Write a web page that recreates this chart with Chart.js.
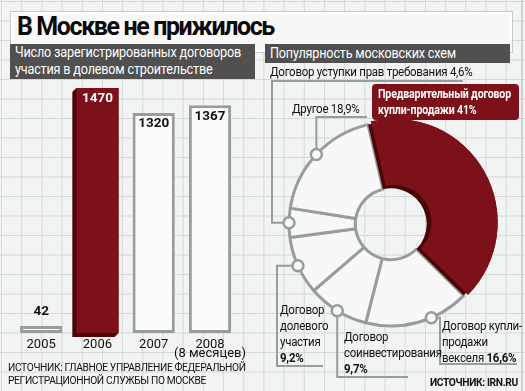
<!DOCTYPE html>
<html>
<head>
<meta charset="utf-8">
<title>В Москве не прижилось</title>
<script src="https://cdn.jsdelivr.net/npm/chart.js"></script>
<style>
  body {
    margin: 0;
    width: 525px;
    height: 391px;
    overflow: hidden;
    position: relative;
    background-color: #f2f3f3;
    background-image: linear-gradient(#d4d8d8 1px, transparent 1px),
                      linear-gradient(90deg, #d4d8d8 1px, transparent 1px);
    background-size: 20.2px 19.5px;
    background-position: 1px 1px;
    font-family: Roboto, sans-serif;
    color: #111;
  }
  .abs { position: absolute; white-space: nowrap; transform-origin: 0 0; }
  #edge { left: 521px; top: 0; width: 2px; height: 391px; background: #cdd1d1; }
  #titleBox {
    left: 10px; top: 11px; width: 501px; height: 40px;
    background: #f8f8f8; border: 1px solid #c6caca;
    box-shadow: inset 0 0 0 2px #fff;
  }
  #title {
    left: 17px; top: 12px; font-size: 25px; font-weight: bold;
    letter-spacing: -1.4px; color: #0a0a0a;
  }
  .head { background: #505050; }
  .headTxt {
    color: #fff; font-size: 14.5px; line-height: 17px; letter-spacing: -0.2px;
    transform: scaleX(0.87);
  }
  .lbl { font-size: 12.5px; line-height: 16px; letter-spacing: -0.3px; transform: scaleX(0.92); }
  #redBox {
    left: 372px; top: 84px; width: 147px; height: 36px;
    background: #7d1119; border-radius: 4px;
  }
  #redTxt {
    left: 378px; top: 86px; color: #fff;
    font-size: 12.5px; font-weight: bold; line-height: 16px; letter-spacing: -0.2px;
    transform: scaleX(0.85);
  }
  .src { font-size: 11.5px; line-height: 13px; letter-spacing: -0.4px; transform: scaleX(0.89); }
  canvas { position: absolute; }
</style>
</head>
<body>
  <div id="edge" class="abs"></div>
  <div id="titleBox" class="abs"></div>
  <div id="title" class="abs">В Москве не прижилось</div>
  <div class="abs head" style="left:10px; top:44px; width:245px; height:35px;"></div>
  <div class="abs headTxt" style="left:15px; top:44px;">Число зарегистрированных договоров<br>участия в долевом строительстве</div>
  <div class="abs head" style="left:265px; top:44px; width:245px; height:19px;"></div>
  <div class="abs headTxt" style="left:270px; top:45px;">Популярность московских схем</div>

  <canvas id="bars" width="240" height="281" style="left:13px; top:80px;"></canvas>
  <canvas id="donut" width="258" height="320" style="left:262px; top:64px;"></canvas>

  <div class="abs lbl" style="left:270px; top:64px;">Договор уступки прав требования 4,6%</div>
  <div class="abs lbl" style="left:292px; top:101px;">Другое 18,9%</div>
  <div id="redBox" class="abs"></div>
  <div id="redTxt" class="abs">Предварительный договор<br>купли-продажи 41%</div>
  <div class="abs lbl" style="left:280px; top:302px;">Договор<br>долевого<br>участия<br><b>9,2%</b></div>
  <div class="abs lbl" style="left:344px; top:329px;">Договор<br>соинвестирования<br><b>9,7%</b></div>
  <div class="abs lbl" style="left:442px; top:318px;">Договор купли-<br>продажи<br>векселя <b>16,6%</b></div>

  <div class="abs src" style="left:8px; top:361px;">ИСТОЧНИК: ГЛАВНОЕ УПРАВЛЕНИЕ ФЕДЕРАЛЬНОЙ<br>РЕГИСТРАЦИОННОЙ СЛУЖБЫ ПО МОСКВЕ</div>
  <div class="abs src" style="left:430px; top:376px; font-weight:bold;">ИСТОЧНИК: IRN.RU</div>

<script>
  // Число договоров долевого участия по годам
  var years = ['2005', '2006', '2007', ['2008', '(8 месяцев)']];
  var counts = [42, 1470, 1320, 1367];
  var highlightYear = 1;

  // Популярность схем, %
  var schemes = [
    'Предварительный договор купли-продажи',
    'Договор купли-продажи векселя',
    'Договор соинвестирования',
    'Договор долевого участия',
    'Договор уступки прав требования',
    'Другое'
  ];
  var shares = [41, 16.6, 9.7, 9.2, 4.6, 18.9];

  var red = '#7d1119';
  var darkRed = '#4a0509';
  var gray = '#979d9d';
  var paper = '#fbfbfb';

  var barDecor = {
    id: 'barDecor',
    beforeDatasetsDraw(chart) {
      var ctx = chart.ctx;
      var bar = chart.getDatasetMeta(0).data[highlightYear];
      var l = bar.x - bar.width / 2, r = bar.x + bar.width / 2, d = 4;
      ctx.save();
      ctx.fillStyle = darkRed;
      ctx.beginPath();
      ctx.moveTo(l, bar.y);
      ctx.lineTo(l - d, bar.y + d);
      ctx.lineTo(l - d, bar.base + d);
      ctx.lineTo(r - d, bar.base + d);
      ctx.lineTo(r, bar.base);
      ctx.lineTo(r, bar.y);
      ctx.closePath();
      ctx.fill();
      ctx.restore();
    },
    afterDatasetsDraw(chart) {
      var ctx = chart.ctx;
      ctx.save();
      ctx.font = 'bold 13.5px Roboto';
      ctx.textAlign = 'center';
      ctx.textBaseline = 'middle';
      chart.getDatasetMeta(0).data.forEach(function (bar, i) {
        var h = bar.base - bar.y;
        ctx.fillStyle = i == highlightYear ? '#fff' : '#111';
        var ty = h < 30 ? bar.y - 14 : bar.y + 11;
        ctx.fillText(String(counts[i]), bar.x, ty);
      });
      ctx.restore();
    }
  };

  new Chart(document.getElementById('bars'), {
    type: 'bar',
    data: {
      labels: years,
      datasets: [{
        data: counts,
        backgroundColor: counts.map((v, i) => i == highlightYear ? red : paper),
        borderColor: counts.map((v, i) => i == highlightYear ? red : gray),
        borderWidth: counts.map((v, i) => i == highlightYear ? 0 : 3),
        borderSkipped: false,
        barPercentage: 0.75,
        categoryPercentage: 1
      }]
    },
    options: {
      responsive: false,
      animation: false,
      events: [],
      layout: { padding: { top: 8, left: 0, right: 0, bottom: 0 } },
      plugins: { legend: { display: false }, tooltip: { enabled: false } },
      scales: {
        x: {
          grid: { display: false, drawTicks: false },
          border: { display: false },
          ticks: {
            padding: 7, color: '#111', maxRotation: 0, minRotation: 0, autoSkip: false,
            font: { family: 'Roboto', size: 13, lineHeight: 0.72 }
          },
          afterFit: function (s) { s.height = 28; }
        },
        y: { display: false, min: 0, max: 1470 }
      }
    },
    plugins: [barDecor]
  });

  // выноски: точки в координатах страницы, null = координата кружка
  var donutLeft = 262, donutTop = 64;
  var leaderAt = [null, 0.37, 0.5, 0.5, 0.5, 0.5];
  var leaderPaths = [
    null,
    [[440, null], [440, 364], [517, 364]],
    [[null, 377], [408, 377]],
    [[277, null], [277, 366], [323, 366]],
    [[272, null], [272, 81], [463, 81]],
    [[null, 117], [367, 117]]
  ];

  var donutDecor = {
    id: 'donutDecor',
    afterDatasetsDraw(chart) {
      var ctx = chart.ctx;
      var arcs = chart.getDatasetMeta(0).data;
      var a0 = arcs[0];
      // объём выдвинутого сектора
      ctx.save();
      ctx.fillStyle = darkRed;
      ctx.beginPath();
      ctx.arc(a0.x, a0.y, a0.outerRadius, a0.startAngle, a0.endAngle);
      ctx.arc(a0.x, a0.y, a0.innerRadius, a0.endAngle, a0.startAngle, true);
      ctx.closePath();
      ctx.fill();
      ctx.restore();
      a0.draw(ctx);

      ctx.save();
      ctx.strokeStyle = gray;
      ctx.lineWidth = 2;
      var dots = [];
      arcs.forEach(function (arc, i) {
        if (!leaderPaths[i]) return;
        var ang = arc.startAngle + (arc.endAngle - arc.startAngle) * leaderAt[i];
        var px = arc.x + Math.cos(ang) * arc.outerRadius;
        var py = arc.y + Math.sin(ang) * arc.outerRadius;
        ctx.beginPath();
        ctx.moveTo(px, py);
        leaderPaths[i].forEach(function (p) {
          var lx = p[0] == null ? px : p[0] - donutLeft;
          var ly = p[1] == null ? py : p[1] - donutTop;
          ctx.lineTo(lx, ly);
        });
        ctx.stroke();
        dots.push([px, py]);
      });
      ctx.lineWidth = 2.5;
      ctx.fillStyle = '#f8f8f8';
      dots.forEach(function (d) {
        ctx.beginPath();
        ctx.arc(d[0], d[1], 5.5, 0, Math.PI * 2);
        ctx.fill();
        ctx.stroke();
      });
      ctx.restore();
    }
  };

  new Chart(document.getElementById('donut'), {
    type: 'doughnut',
    data: {
      labels: schemes,
      datasets: [{
        data: shares,
        backgroundColor: shares.map((v, i) => i == 0 ? red : '#f8f8f8'),
        borderColor: gray,
        borderWidth: shares.map((v, i) => i == 0 ? 0 : 3),
        offset: shares.map((v, i) => i == 0 ? 14 : 0)
      }]
    },
    options: {
      responsive: false,
      animation: false,
      events: [],
      radius: 102,
      cutout: '35%',
      rotation: -13,
      layout: { padding: 0 },
      plugins: { legend: { display: false }, tooltip: { enabled: false } }
    },
    plugins: [donutDecor]
  });
</script>
</body>
</html>
